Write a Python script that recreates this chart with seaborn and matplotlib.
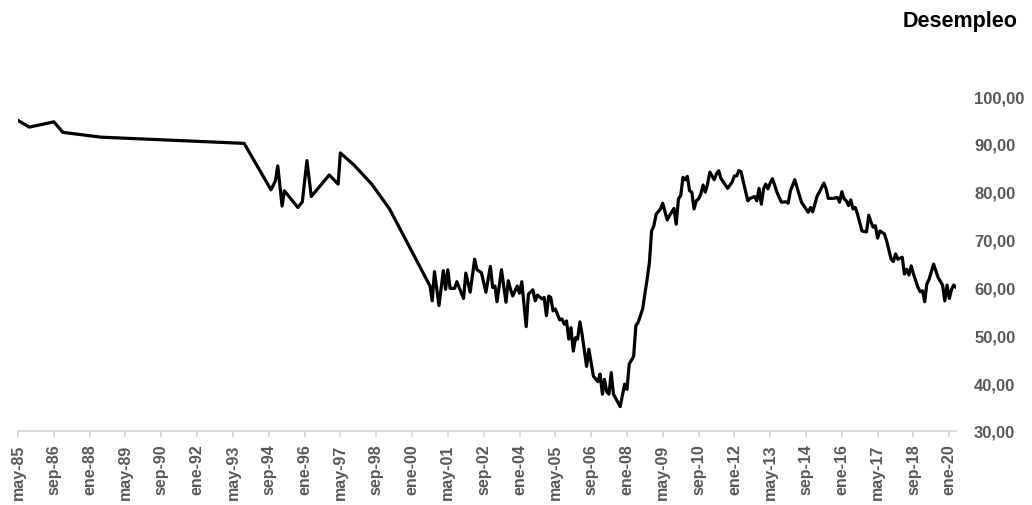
import matplotlib
matplotlib.use("Agg")
import matplotlib.pyplot as plt
import pandas as pd
import seaborn as sns

# Serie mensual (con tramos iniciales de baja frecuencia)
fechas = [
    "1985-05", "1985-10", "1986-09", "1987-01", "1988-06", "1993-10", "1994-10",
    "1994-12", "1995-01", "1995-03", "1995-04", "1995-10", "1995-12", "1996-02",
    "1996-04", "1996-12", "1997-04", "1997-05", "1997-11", "1998-07", "1999-03",
    "2000-09", "2000-10", "2000-11", "2001-01", "2001-03", "2001-04", "2001-05",
    "2001-06", "2001-08", "2001-09", "2001-12", "2002-01", "2002-03", "2002-05",
    "2002-06", "2002-08", "2002-10", "2002-12", "2003-01", "2003-02", "2003-03",
    "2003-05", "2003-07", "2003-08", "2003-09", "2003-10", "2003-12", "2004-01",
    "2004-02", "2004-04", "2004-05", "2004-07", "2004-08", "2004-09", "2004-11",
    "2004-12", "2005-01", "2005-02", "2005-03", "2005-04", "2005-05", "2005-07",
    "2005-08", "2005-09", "2005-10", "2005-11", "2005-12", "2006-01", "2006-02",
    "2006-03", "2006-04", "2006-05", "2006-07", "2006-08", "2006-09", "2006-10",
    "2006-12", "2007-01", "2007-02", "2007-03", "2007-04", "2007-05", "2007-06",
    "2007-07", "2007-10", "2007-12", "2008-01", "2008-02", "2008-04", "2008-05",
    "2008-06", "2008-08", "2008-10", "2008-11", "2008-12", "2009-01", "2009-02",
    "2009-04", "2009-05", "2009-07", "2009-08", "2009-10", "2009-11", "2009-12",
    "2010-01", "2010-02", "2010-03", "2010-04", "2010-05", "2010-06", "2010-07",
    "2010-08", "2010-09", "2010-10", "2010-11", "2010-12", "2011-01", "2011-02",
    "2011-04", "2011-05", "2011-06", "2011-07", "2011-09", "2011-10", "2011-12",
    "2012-01", "2012-02", "2012-03", "2012-04", "2012-05", "2012-07", "2012-08",
    "2012-10", "2012-11", "2012-12", "2013-01", "2013-02", "2013-03", "2013-04",
    "2013-05", "2013-06", "2013-07", "2013-08", "2013-10", "2013-12", "2014-01",
    "2014-02", "2014-04", "2014-05", "2014-07", "2014-08", "2014-10", "2014-11",
    "2014-12", "2015-02", "2015-03", "2015-05", "2015-06", "2015-07", "2015-09",
    "2015-11", "2015-12", "2016-01", "2016-02", "2016-03", "2016-04", "2016-05",
    "2016-06", "2016-07", "2016-08", "2016-10", "2016-12", "2017-01", "2017-02",
    "2017-03", "2017-04", "2017-05", "2017-06", "2017-08", "2017-09", "2017-11",
    "2017-12", "2018-01", "2018-02", "2018-04", "2018-05", "2018-06", "2018-07",
    "2018-08", "2018-09", "2018-11", "2018-12", "2019-01", "2019-02", "2019-03",
    "2019-04", "2019-06", "2019-07", "2019-08", "2019-10", "2019-11", "2019-12",
    "2020-01", "2020-02", "2020-03", "2020-04",
]

desempleo = [
    94.9, 93.5, 94.6, 92.4, 91.4, 90.1, 80.4,
    82.3, 85.4, 77.0, 80.2, 76.7, 77.9, 86.5,
    79.0, 83.5, 81.6, 88.1, 85.6, 81.6, 76.4,
    60.3, 57.2, 63.3, 56.2, 63.5, 59.6, 63.7,
    59.8, 59.8, 61.2, 57.7, 63.0, 59.0, 65.9,
    63.7, 63.1, 59.0, 64.4, 60.0, 60.3, 57.0,
    63.7, 56.9, 61.4, 59.6, 58.2, 60.3, 58.8,
    61.2, 51.8, 58.6, 59.5, 57.2, 58.4, 57.6,
    57.9, 54.1, 58.2, 57.9, 55.1, 55.5, 53.2,
    53.4, 52.3, 53.0, 49.2, 51.6, 46.7, 49.5,
    49.2, 52.8, 50.2, 43.5, 47.1, 44.3, 41.5,
    40.3, 41.9, 37.7, 40.8, 38.2, 37.7, 42.2,
    37.7, 35.1, 39.8, 38.7, 44.0, 45.6, 52.0,
    52.7, 55.5, 61.7, 65.2, 71.8, 72.9, 75.3,
    76.4, 77.6, 74.1, 75.0, 76.5, 73.2, 78.5,
    79.2, 83.0, 82.5, 83.2, 80.2, 79.9, 76.4,
    78.1, 78.5, 79.5, 81.4, 79.9, 81.6, 84.1,
    82.5, 83.7, 84.4, 82.8, 81.4, 80.7, 82.0,
    83.3, 83.3, 84.4, 84.2, 82.1, 78.1, 78.6,
    79.0, 78.1, 80.7, 77.4, 80.6, 81.6, 80.6,
    81.8, 82.7, 81.4, 79.9, 77.8, 77.9, 77.6,
    80.2, 82.5, 80.9, 77.8, 77.1, 75.7, 76.7,
    75.8, 79.2, 79.9, 81.8, 80.6, 78.6, 78.6,
    78.8, 77.8, 80.0, 78.5, 78.1, 77.1, 78.3,
    76.4, 76.7, 75.3, 71.8, 71.6, 75.1, 73.6,
    72.6, 72.9, 70.3, 71.8, 71.2, 69.7, 65.9,
    65.4, 67.0, 65.9, 66.3, 62.8, 63.8, 62.6,
    64.5, 62.8, 60.0, 59.1, 59.3, 57.0, 60.7,
    61.7, 64.9, 63.5, 62.1, 60.5, 57.2, 60.5,
    57.7, 59.6, 60.5, 60.0,
]

meses_es = ["ene", "feb", "mar", "abr", "may", "jun",
            "jul", "ago", "sep", "oct", "nov", "dic"]
y_ticks = [30, 40, 50, 60, 70, 80, 90, 100]
titulo = "Desempleo"

sns.set_style("white")
plt.rcParams["font.family"] = ["Liberation Sans", "DejaVu Sans"]

df = pd.DataFrame({
    "fecha": pd.to_datetime(fechas, format="%Y-%m"),
    "valor": desempleo,
})

fig = plt.figure(figsize=(10.32, 5.06), dpi=100)
ax = fig.add_axes([18 / 1032, 74 / 506, 938 / 1032, 335 / 506])

sns.lineplot(data=df, x="fecha", y="valor", ax=ax, color="black",
             linewidth=2.3, solid_joinstyle="round", solid_capstyle="round")

# Eje X: etiquetas cada 16 meses
tick_dates = pd.date_range("1985-05-01", "2020-01-01", freq="16MS")
ax.set_xticks(tick_dates)
ax.set_xticklabels([f"{meses_es[d.month - 1]}-{d.year % 100:02d}" for d in tick_dates])
ax.set_xlim(pd.Timestamp("1985-05-01"), pd.Timestamp("2020-04-01"))

# Eje Y a la derecha
ax.set_ylim(30, 100)
ax.yaxis.tick_right()
ax.set_yticks(y_ticks)
ax.set_yticklabels([f"{v:.2f}".replace(".", ",") for v in y_ticks])

ax.set_xlabel("")
ax.set_ylabel("")

for side in ["left", "top", "right"]:
    ax.spines[side].set_visible(False)
ax.spines["bottom"].set_color("#d9d9d9")
ax.spines["bottom"].set_linewidth(1.3)

ax.tick_params(axis="x", direction="out", length=4, width=1.3, color="#d9d9d9",
               labelcolor="#595959", labelsize=11.5, rotation=90, pad=5, bottom=True)
ax.tick_params(axis="y", length=0, pad=13, labelcolor="#595959", labelsize=12,
               right=False, labelright=True)
for lab in ax.get_xticklabels() + ax.get_yticklabels():
    lab.set_fontweight("bold")

fig.text(1018 / 1032, 1 - 21 / 506, titulo, ha="right", va="center",
         fontsize=15.5, fontweight="bold", color="black")

fig.savefig("out.png", dpi=100)
